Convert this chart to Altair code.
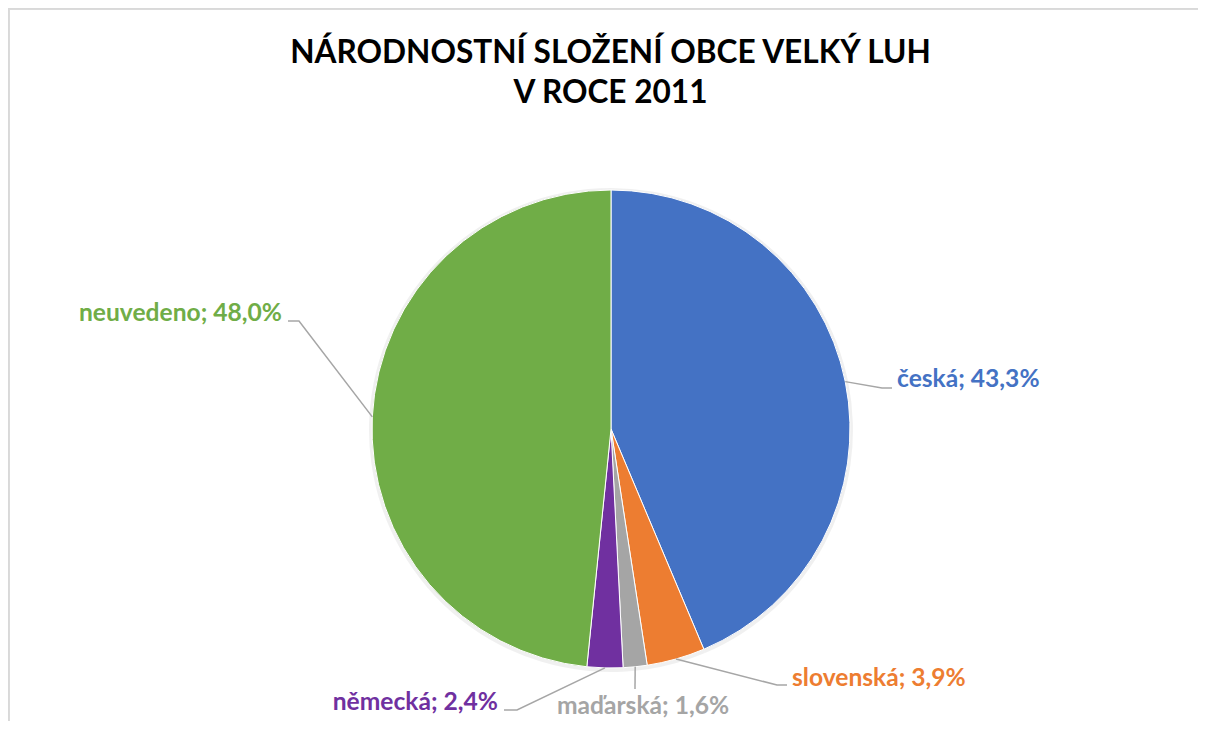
import math
import altair as alt
import pandas as pd

# ---- data ----
categories = ["česká", "slovenská", "maďarská", "německá", "neuvedeno"]
values = [43.3, 3.9, 1.6, 2.4, 48.0]
colors = ["#4472C4", "#ED7D31", "#A5A5A5", "#7030A0", "#70AD47"]
title_lines = ["NÁRODNOSTNÍ SLOŽENÍ OBCE VELKÝ LUH", "V ROCE 2011"]

# ---- layout (view pixels) ----
W, H = 1190, 713
CX, CY, R = 603, 421, 239
FONT = "Lato"
# label layout: elbow point, line end point, text anchor, alignment
label_layout = {
    "česká":     dict(elbow=(874, 380), end=(884, 380), text=(889, 379), align="left"),
    "slovenská": dict(elbow=(769, 677), end=(779, 677), text=(784, 678), align="left"),
    "maďarská":  dict(elbow=(627, 681), end=(627, 681), text=(635, 706), align="center"),
    "německá":   dict(elbow=(509, 702), end=(496, 702), text=(490, 702), align="right"),
    "neuvedeno": dict(elbow=(291, 313), end=(280, 313), text=(274, 313), align="right"),
}

total = sum(values)
pie_df = pd.DataFrame({"cat": categories, "val": values, "idx": range(len(categories))})

# leader lines: start on the pie edge at the slice's mid-angle
line_rows = []
text_rows = []
cum = 0.0
for i, (c, v) in enumerate(zip(categories, values)):
    mid = (cum + v / 2) / total * 2 * math.pi
    cum += v
    sx = CX + R * math.sin(mid)
    sy = CY - R * math.cos(mid)
    lay = label_layout[c]
    pts = [(sx, sy), lay["elbow"], lay["end"]]
    for k, (px, py) in enumerate(pts):
        line_rows.append({"cat": c, "k": k, "px": px, "py": py})
    label = f"{c}; {v:.1f}%".replace(".", ",")
    text_rows.append({"cat": c, "label": label, "px": lay["text"][0], "py": lay["text"][1],
                      "align": lay["align"], "color": colors[i]})
line_df = pd.DataFrame(line_rows)
text_df = pd.DataFrame(text_rows)

xs = alt.Scale(domain=[0, W], nice=False, zero=False)
ys = alt.Scale(domain=[0, H], nice=False, zero=False, reverse=True)

color_scale = alt.Scale(domain=categories, range=colors)

shadow = alt.Chart(pie_df).mark_arc(outerRadius=R + 3, color="#000000", opacity=0.06).encode(
    theta=alt.Theta("val:Q", stack=True),
    x=alt.value(CX), y=alt.value(CY + 1),
)

pie = alt.Chart(pie_df).mark_arc(outerRadius=R, stroke="#FFFFFF", strokeWidth=1).encode(
    theta=alt.Theta("val:Q", stack=True),
    order=alt.Order("idx:Q"),
    color=alt.Color("cat:N", scale=color_scale, legend=None),
    x=alt.value(CX), y=alt.value(CY),
)

leaders = alt.Chart(line_df).mark_line(color="#A6A6A6", strokeWidth=1.5).encode(
    x=alt.X("px:Q", scale=xs, axis=None),
    y=alt.Y("py:Q", scale=ys, axis=None),
    detail="cat:N",
    order="k:Q",
)

text_layers = []
for a in ["left", "right", "center"]:
    sub = text_df[text_df["align"] == a]
    if len(sub) == 0:
        continue
    text_layers.append(
        alt.Chart(sub).mark_text(align=a, baseline="alphabetic", font=FONT, fontWeight="bold",
                                 fontSize=24.6).encode(
            x=alt.X("px:Q", scale=xs, axis=None),
            y=alt.Y("py:Q", scale=ys, axis=None),
            text="label:N",
            color=alt.Color("cat:N", scale=color_scale, legend=None),
        )
    )

title_df = pd.DataFrame({"t": title_lines, "px": [602.5, 602.5], "py": [55, 95]})
title = alt.Chart(title_df).mark_text(align="center", baseline="alphabetic", font=FONT,
                                      fontWeight="bold", fontSize=31.6, color="#000000").encode(
    x=alt.X("px:Q", scale=xs, axis=None),
    y=alt.Y("py:Q", scale=ys, axis=None),
    text="t:N",
)

frame_top = alt.Chart(pie_df).mark_rule(color="#D9D9D9", strokeWidth=1.5).encode(
    x=alt.value(0), x2=alt.value(W), y=alt.value(0.75)
)
frame_left = alt.Chart(pie_df).mark_rule(color="#D9D9D9", strokeWidth=1.5).encode(
    x=alt.value(0.75), y=alt.value(0), y2=alt.value(H)
)

chart = alt.layer(shadow, pie, leaders, *text_layers, title, frame_top, frame_left).properties(
    width=W, height=H,
    autosize=alt.AutoSizeParams(type="none"),
    padding=0,
).configure_view(stroke=None).resolve_scale(color="shared")

chart.save("out.html", embed_options={"renderer": "svg", "actions": False})
